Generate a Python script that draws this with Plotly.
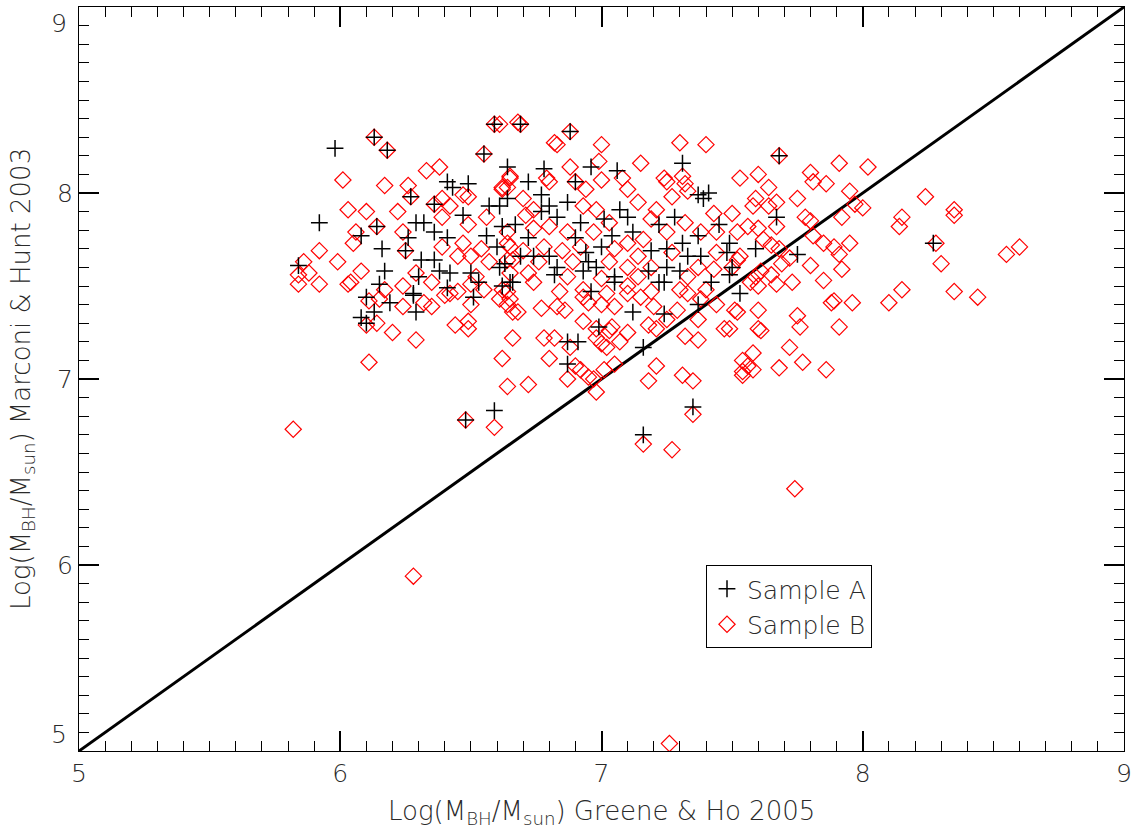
import plotly.graph_objects as go

# Sample A (crosses): Greene & Ho 2005 (x) vs Marconi & Hunt 2003 (y)
a_x = [6.59, 6.13, 6.18, 5.98, 6.55, 6.64, 6.41, 6.43, 6.49, 6.27, 6.36, 6.57, 6.61, 6.64, 6.47,
       5.92, 6.14, 6.29, 6.32, 6.36, 6.41, 6.26, 6.08, 6.16, 6.25, 6.31, 6.36, 5.84, 6.17, 6.38,
       6.42, 6.30, 6.50, 6.61, 6.15, 6.41, 6.65, 6.56, 6.60, 6.62, 6.10, 6.28, 6.13, 6.19, 6.28,
       6.29, 6.08, 6.10, 6.51, 6.53, 6.62, 6.66, 6.48, 6.59,
       6.69, 6.88, 6.78, 6.96, 7.06, 7.31, 6.72, 6.90, 6.77, 6.80, 6.87, 6.77, 6.83, 7.37, 7.39,
       7.41, 7.07, 7.10, 7.28, 6.92, 7.01, 6.67, 7.45, 7.12, 7.22, 6.90, 6.72, 7.04, 7.31, 7.37,
       7.49, 6.69, 6.74, 6.80, 7.00, 7.19, 7.25, 7.33, 7.38, 7.48, 6.94, 6.83, 6.95, 6.98, 6.93,
       6.82, 7.25, 7.30, 7.18, 7.49, 7.05, 7.22, 7.42, 7.53, 6.63,
       7.68, 7.67, 7.59, 7.75, 8.27, 7.50,
       7.05, 7.24, 6.96, 7.12, 7.24, 7.37, 6.99, 6.87, 6.91, 6.87, 7.16, 7.35, 7.16]
a_y = [8.37, 8.30, 8.23, 8.24, 8.21, 8.14, 8.06, 8.03, 8.05, 7.98, 7.94, 7.93, 7.93, 7.97, 7.88,
       7.84, 7.82, 7.84, 7.84, 7.79, 7.76, 7.76, 7.77, 7.70, 7.69, 7.64, 7.64, 7.61, 7.58, 7.58,
       7.57, 7.55, 7.57, 7.60, 7.51, 7.49, 7.52, 7.77, 7.71, 7.82, 7.44, 7.46, 7.36, 7.41, 7.45,
       7.36, 7.33, 7.30, 7.44, 7.52, 7.50, 7.52, 6.78, 6.83,
       8.37, 8.33, 8.13, 8.14, 8.12, 8.16, 8.06, 8.06, 7.99, 7.93, 7.95, 7.90, 7.87, 7.99, 7.97,
       8.00, 7.91, 7.87, 7.87, 7.84, 7.86, 7.83, 7.83, 7.79, 7.83, 7.76, 7.76, 7.77, 7.73, 7.77,
       7.73, 7.66, 7.66, 7.66, 7.71, 7.69, 7.70, 7.66, 7.66, 7.68, 7.68, 7.60, 7.63, 7.60, 7.58,
       7.56, 7.60, 7.58, 7.58, 7.56, 7.55, 7.52, 7.52, 7.46, 7.62,
       8.20, 7.87, 7.70, 7.67, 7.73, 7.60,
       7.52, 7.52, 7.47, 7.36, 7.35, 7.40, 7.28, 7.20, 7.20, 7.08, 7.17, 6.85, 6.70]

# Sample B (diamonds)
b_x = [6.01, 6.17, 6.26, 6.33, 6.38, 6.68, 6.03, 6.10, 6.22, 6.39, 6.42, 6.39, 6.49, 6.56, 6.64,
       6.62, 6.65, 6.06, 6.05, 6.24, 5.92, 5.99, 5.86, 5.88, 5.84, 5.92, 5.84, 6.08, 6.03, 6.04,
       6.29, 6.39, 6.47, 6.45, 6.50, 6.54, 6.57, 6.52, 6.50, 6.55, 6.45, 6.65, 6.66, 6.65, 6.62,
       6.17, 6.24, 6.35, 6.40, 6.59, 6.13, 6.18, 6.55, 6.27, 6.36, 6.14, 6.25, 6.47, 6.49,
       6.11, 6.15, 6.24, 6.32, 6.35, 6.42, 6.50, 6.10, 6.14, 6.20, 6.29, 6.44, 6.49, 6.49, 6.11,
       5.82, 6.66, 6.62, 6.64, 6.48, 6.59, 6.65, 6.61, 6.68,
       6.61, 6.69, 6.88, 6.82, 6.83, 7.00, 6.99, 7.15, 7.30, 7.40, 7.53, 6.88, 6.79, 6.80, 6.65,
       6.90, 7.00, 7.08, 7.10, 7.24, 7.25, 7.31, 7.32, 7.27, 7.33, 7.14, 7.21, 6.94, 6.70, 6.62,
       6.74, 6.71, 6.93, 6.98, 7.03, 7.19, 7.32, 7.43, 7.50, 7.44, 7.38, 7.52, 7.25, 6.64, 6.74,
       6.80, 6.87, 6.97, 7.16, 7.10, 7.05, 6.92, 6.78, 6.64, 6.85, 6.70, 7.14, 7.27, 7.44, 7.53,
       6.64, 6.76, 6.89, 7.03, 7.10, 7.19, 7.37, 7.43, 6.72, 6.87, 7.00, 7.14, 7.33, 7.50, 6.74,
       6.93, 7.10, 7.19, 7.30, 7.40, 6.84, 6.64, 7.02,
       7.68, 7.91, 8.02, 7.60, 7.80, 7.81, 7.86, 7.64, 7.95, 8.24, 7.75, 7.59, 7.67, 7.97, 8.00,
       8.35, 8.35, 8.15, 8.14, 7.78, 7.80, 7.92, 7.58, 7.64, 7.56, 7.60, 7.67, 7.81, 7.85, 7.95,
       7.89, 7.91, 7.62, 7.65, 7.68, 7.52, 7.72, 7.80, 7.69, 7.92, 8.30, 8.28, 7.61, 7.59, 7.65,
       7.85, 7.73, 7.57, 7.67, 7.60, 8.15, 8.10, 8.35, 8.44, 7.96, 7.89, 7.88, 7.51, 7.52, 7.60,
       7.75, 7.76, 7.60, 7.61, 7.91, 7.72, 7.54, 7.58, 7.68, 7.77, 7.86, 7.58, 7.54, 7.49, 8.60,
       8.55,
       6.66, 6.64, 6.77, 6.83, 6.86, 6.93, 6.95, 7.00, 7.05, 7.10, 7.15, 7.20, 7.29, 7.33, 7.38,
       7.44, 6.93, 6.98, 7.03, 7.04, 7.10, 7.18, 7.21, 7.25, 7.37, 6.78, 6.82, 6.88, 6.98, 7.00,
       7.02, 7.07, 7.32, 7.37, 7.47, 6.80, 6.90, 6.92, 6.95, 6.97, 7.01, 7.05, 7.21, 7.31, 7.35,
       7.18, 6.98, 6.87, 6.72, 7.56, 7.54, 7.35, 7.16, 7.27, 6.28, 7.26, 7.74]
b_y = [8.07, 8.04, 8.04, 8.12, 8.14, 8.38, 7.91, 7.90, 7.90, 7.97, 7.93, 7.87, 7.83, 7.87, 8.03,
       8.02, 8.09, 7.79, 7.73, 7.79, 7.69, 7.63, 7.63, 7.57, 7.56, 7.51, 7.51, 7.58, 7.51, 7.52,
       7.57, 7.71, 7.73, 7.66, 7.66, 7.70, 7.63, 7.55, 7.51, 7.48, 7.47, 7.71, 7.64, 7.57, 7.48,
       7.48, 7.50, 7.52, 7.45, 8.37, 8.30, 8.23, 8.21, 7.98, 7.94, 7.82, 7.69, 7.99, 7.98,
       7.42, 7.43, 7.39, 7.41, 7.39, 7.46, 7.40, 7.29, 7.30, 7.25, 7.21, 7.29, 7.31, 7.27, 7.09,
       6.73, 7.22, 7.11, 6.96, 6.78, 6.74, 7.43, 7.43, 7.36,
       8.37, 8.37, 8.33, 8.27, 8.26, 8.26, 8.17, 8.16, 8.27, 8.26, 8.08, 8.14, 8.08, 8.06, 8.08,
       8.06, 8.07, 8.08, 8.02, 8.08, 8.06, 8.09, 8.05, 7.98, 8.01, 7.95, 7.91, 8.02, 7.97, 8.03,
       7.91, 7.88, 7.93, 7.91, 7.84, 7.86, 7.84, 7.89, 7.89, 7.79, 7.79, 7.79, 7.79, 7.79, 7.81,
       7.82, 7.79, 7.79, 7.75, 7.73, 7.70, 7.71, 7.71, 7.73, 7.69, 7.69, 7.66, 7.68, 7.68, 7.66,
       7.64, 7.63, 7.63, 7.63, 7.60, 7.60, 7.60, 7.59, 7.57, 7.55, 7.54, 7.55, 7.55, 7.60, 7.52,
       7.48, 7.50, 7.47, 7.48, 7.48, 7.47, 7.47, 7.46,
       8.20, 8.16, 8.14, 8.10, 8.11, 8.06, 8.05, 8.03, 8.01, 7.98, 7.97, 7.97, 7.95, 7.94, 7.92,
       7.91, 7.88, 7.87, 7.82, 7.87, 7.85, 7.87, 7.93, 7.93, 7.82, 7.81, 7.82, 7.77, 7.73, 7.73,
       7.71, 7.67, 7.75, 7.72, 7.70, 7.64, 7.65, 7.61, 7.62, 7.59, 7.62, 7.73, 7.58, 7.55, 7.56,
       7.53, 7.52, 7.52, 7.51, 7.50, 7.48, 7.41, 7.47, 7.44, 7.41, 7.42, 7.41, 7.37, 7.36, 7.37,
       7.34, 7.28, 7.27, 7.26, 7.28, 7.17, 7.10, 7.14, 7.06, 7.09, 7.05, 7.05, 7.04, 7.27, 7.71,
       7.67,
       7.36, 7.40, 7.38, 7.39, 7.37, 7.44, 7.41, 7.40, 7.39, 7.46, 7.44, 7.39, 7.37, 7.46, 7.43,
       7.40, 7.31, 7.27, 7.26, 7.28, 7.25, 7.29, 7.27, 7.32, 7.32, 7.22, 7.22, 7.17, 7.22, 7.19,
       7.17, 7.20, 7.23, 7.21, 7.27, 7.11, 7.07, 7.05, 7.01, 7.00, 7.05, 7.08, 7.07, 7.02, 6.99,
       6.99, 6.93, 7.00, 6.97, 7.07, 7.02, 6.81, 6.65, 6.62, 5.94, 5.04, 6.41]

line_x = [5, 9]
line_y = [5, 9]

y_tickvals = [6, 7, 8]          # 5 and 9 are placed as end labels below
y_end_labels = [5, 9]
AX_RANGE = [5, 9]
MAJOR_STEP = 1
MINOR_STEP = 0.1

X_TITLE = "Log(M<sub>BH</sub>/M<sub>sun</sub>) Greene &amp; Ho 2005"
Y_TITLE = "Log(M<sub>BH</sub>/M<sub>sun</sub>) Marconi &amp; Hunt 2003"

FONT = "DejaVu Sans"
TXT = "#2a2a2a"

fig = go.Figure()
fig.add_trace(go.Scatter(x=line_x, y=line_y, mode="lines", showlegend=False,
                         line=dict(color="black", width=3), hoverinfo="skip"))
fig.add_trace(go.Scatter(x=b_x, y=b_y, mode="markers", name="Sample B",
                         marker=dict(symbol="diamond-open", size=12.5,
                                     color="#ff0000", line=dict(color="#ff0000", width=1.2))))
fig.add_trace(go.Scatter(x=a_x, y=a_y, mode="markers", name="Sample A",
                         marker=dict(symbol="cross-thin-open", size=12,
                                     color="black", line=dict(color="black", width=1.5))))

fig.update_xaxes(range=AX_RANGE, dtick=MAJOR_STEP, ticks="inside", ticklen=20, tickwidth=1.5,
                 tickcolor="#000000", showline=True, linecolor="#000000", mirror="allticks",
                 showgrid=False, zeroline=False,
                 tickfont=dict(family=FONT, size=25, color=TXT, weight=200),
                 minor=dict(ticks="inside", ticklen=10, dtick=MINOR_STEP,
                            tickcolor="#000000", tickwidth=1.2))
fig.update_yaxes(range=AX_RANGE, tickmode="array", tickvals=y_tickvals,
                 ticks="inside", ticklen=20, tickwidth=1.5,
                 tickcolor="#000000", showline=True, linecolor="#000000", mirror="allticks",
                 showgrid=False, zeroline=False,
                 tickfont=dict(family=FONT, size=25, color=TXT, weight=200),
                 minor=dict(ticks="inside", ticklen=10, dtick=MINOR_STEP,
                            tickcolor="#000000", tickwidth=1.2))

# axis end labels (5 and 9 on the y axis sit inside the frame, as in the original)
for v in y_end_labels:
    fig.add_annotation(x=0, xref="paper", xanchor="right", xshift=-10,
                       y=v, yref="y", yanchor="bottom" if v == 5 else "top",
                       text=str(v), showarrow=False,
                       font=dict(family=FONT, size=25, color=TXT, weight=200))

# axis titles
fig.add_annotation(x=0.5, xref="paper", y=0, yref="paper", yanchor="middle", yshift=-61,
                   text=X_TITLE, showarrow=False,
                   font=dict(family=FONT, size=26, color=TXT, weight=200))
fig.add_annotation(x=0, xref="paper", xanchor="center", xshift=-57,
                   y=0.5, yref="paper", textangle=-90,
                   text=Y_TITLE, showarrow=False,
                   font=dict(family=FONT, size=26, color=TXT, weight=200))

fig.update_layout(
    template="none",
    width=1142, height=832,
    margin=dict(l=79, r=18, t=7, b=81),
    plot_bgcolor="white", paper_bgcolor="white",
    font=dict(family=FONT, color=TXT),
    legend=dict(x=0.6, y=0.25, xanchor="left", yanchor="top",
                bordercolor="black", borderwidth=1, bgcolor="white",
                traceorder="reversed", tracegroupgap=0,
                font=dict(family=FONT, size=25, color=TXT, weight=200),
                itemwidth=30),
)

fig.write_html("out.html")
